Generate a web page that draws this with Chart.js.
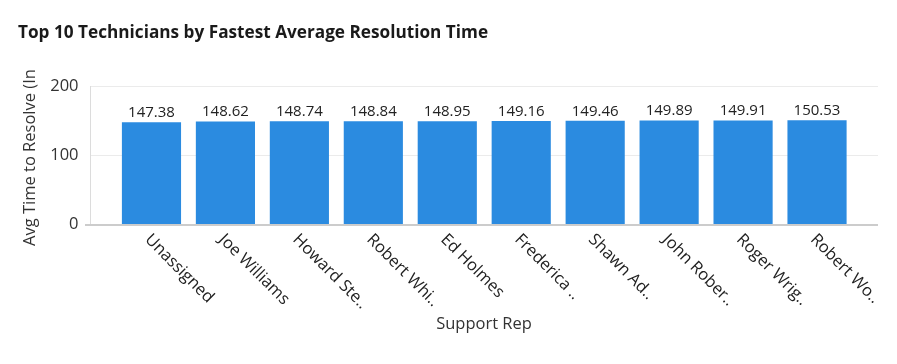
<!DOCTYPE html>
<html lang="en">
<head>
    <meta charset="UTF-8">
    <title>Top 10 Technicians by Fastest Average Resolution Time</title>
    <script src="https://cdn.jsdelivr.net/npm/chart.js"></script>
    <style>
        body {
            margin: 0;
            padding: 0;
            background: #fff;
        }
        #wrap {
            width: 897px;
            height: 364px;
        }
    </style>
</head>
<body>
    <div id="wrap"><canvas id="myChart"></canvas></div>

    <script>
        const technicians = ['Unassigned', 'Joe Williams', 'Howard Ste..', 'Robert Whi..', 'Ed Holmes',
            'Frederica ..', 'Shawn Ad..', 'John Rober..', 'Roger Wrig..', 'Robert Wo..'];
        const avgHours = [147.38, 148.62, 148.74, 148.84, 148.95, 149.16, 149.46, 149.89, 149.91, 150.53];
        const yTicks = [0, 100, 200];

        const chartTitle = 'Top 10 Technicians by Fastest Average Resolution Time';
        const yTitle = 'Avg Time to Resolve (In Hours)';
        const xTitle = 'Support Rep';
        const fontName = '"Open Sans", sans-serif';

        // grid, axes, labels and titles drawn by hand so they sit where the original puts them
        const decorations = {
            id: 'decorations',
            beforeDatasetsDraw(chart) {
                const ctx = chart.ctx;
                const y = chart.scales.y;
                const area = chart.chartArea;
                ctx.save();
                ctx.strokeStyle = '#ebebeb';
                ctx.lineWidth = 1;
                yTicks.forEach(v => {
                    if (v === 0) return;
                    const py = Math.round(y.getPixelForValue(v)) + 0.5;
                    ctx.beginPath();
                    ctx.moveTo(90, py);
                    ctx.lineTo(878, py);
                    ctx.stroke();
                });
                ctx.strokeStyle = '#dcdcdc';
                ctx.beginPath();
                ctx.moveTo(90.5, area.top);
                ctx.lineTo(90.5, area.bottom);
                ctx.stroke();
                ctx.restore();
            },
            afterDatasetsDraw(chart) {
                const ctx = chart.ctx;
                const x = chart.scales.x;
                const area = chart.chartArea;
                const meta = chart.getDatasetMeta(0);
                ctx.save();

                // x axis line
                ctx.strokeStyle = '#cccccc';
                ctx.lineWidth = 2;
                ctx.beginPath();
                ctx.moveTo(85, area.bottom + 1);
                ctx.lineTo(878, area.bottom + 1);
                ctx.stroke();

                // values above bars
                ctx.fillStyle = '#222';
                ctx.font = '15px ' + fontName;
                ctx.textAlign = 'center';
                ctx.textBaseline = 'bottom';
                meta.data.forEach((bar, i) => {
                    ctx.fillText(avgHours[i].toFixed(2), bar.x, bar.y - 2);
                });

                // rotated category labels
                ctx.font = '16.5px ' + fontName;
                ctx.textAlign = 'left';
                ctx.textBaseline = 'middle';
                technicians.forEach((name, i) => {
                    const px = x.getPixelForTick(i);
                    ctx.save();
                    ctx.translate(px - 4, area.bottom + 13);
                    ctx.rotate(Math.PI / 4);
                    ctx.fillText(name, 0, 0);
                    ctx.restore();
                });

                // axis titles
                ctx.fillStyle = '#333';
                ctx.textAlign = 'center';
                ctx.fillText(xTitle, 484, 324);

                ctx.save();
                ctx.beginPath();
                ctx.rect(0, 68, 80, 250);
                ctx.clip();
                ctx.translate(30, 246);
                ctx.rotate(-Math.PI / 2);
                ctx.textAlign = 'left';
                ctx.fillText(yTitle, 0, 0);
                ctx.restore();

                // chart title
                ctx.fillStyle = '#1a1a1a';
                ctx.font = 'bold 17.2px ' + fontName;
                ctx.textAlign = 'left';
                ctx.fillText(chartTitle, 18, 33);

                ctx.restore();
            }
        };

        const ctx = document.getElementById('myChart').getContext('2d');
        const myChart = new Chart(ctx, {
            type: 'bar',
            data: {
                labels: technicians,
                datasets: [{
                    label: yTitle,
                    data: avgHours,
                    backgroundColor: '#2b8be0',
                    borderWidth: 0,
                    categoryPercentage: 1.0,
                    barPercentage: 0.8
                }]
            },
            options: {
                responsive: true,
                maintainAspectRatio: false,
                animation: false,
                layout: {
                    padding: { top: 86, right: 43, bottom: 0, left: 0 }
                },
                plugins: {
                    legend: { display: false },
                    tooltip: { enabled: false }
                },
                scales: {
                    x: {
                        grid: { display: false, drawTicks: false },
                        border: { display: false },
                        ticks: { display: false },
                        afterFit(scale) { scale.height = 140; }
                    },
                    y: {
                        min: 0,
                        max: 200,
                        afterBuildTicks(scale) {
                            scale.ticks = yTicks.map(v => ({ value: v }));
                        },
                        grid: { display: false, drawTicks: false },
                        border: { display: false },
                        ticks: {
                            padding: 36,
                            color: '#333',
                            font: { family: fontName, size: 16.5 }
                        },
                        afterFit(scale) { scale.width = 114.5; }
                    }
                }
            },
            plugins: [decorations]
        });
    </script>
</body>
</html>
